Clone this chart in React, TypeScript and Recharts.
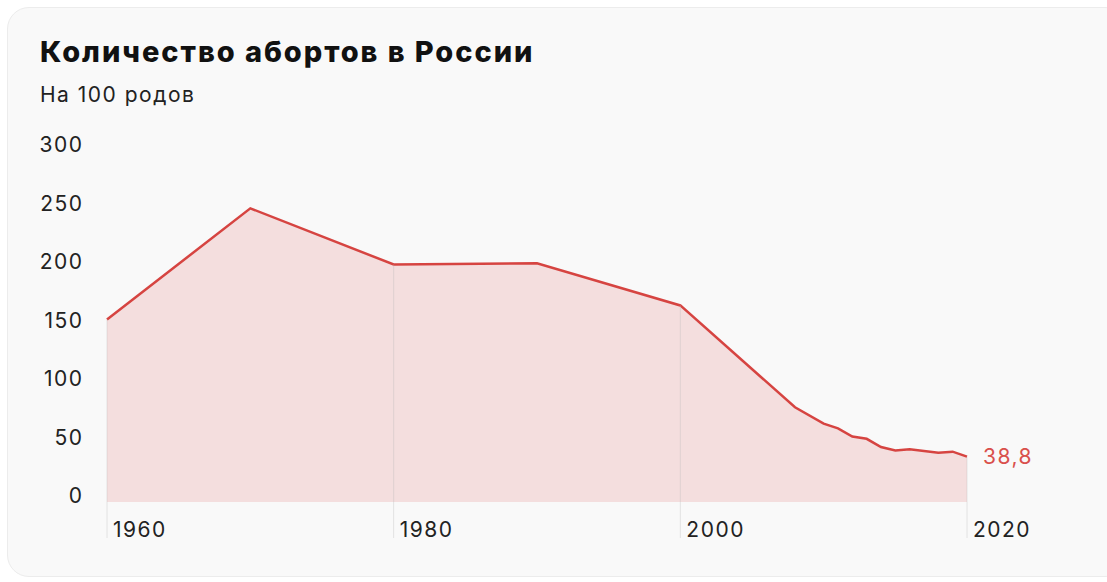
import React from "react"
import { Area, AreaChart, ReferenceLine, XAxis, YAxis } from "recharts"

const years = [1960, 1970, 1980, 1990, 2000, 2008, 2010, 2011, 2012, 2013, 2014, 2015, 2016, 2018, 2019, 2020]
const abortions = [156, 251, 203, 204, 168, 81, 67, 63, 56, 54, 47, 44, 45, 42, 43, 38.8]
const xTicks = [1960, 1980, 2000, 2020]
const yTicks = [0, 50, 100, 150, 200, 250, 300]

const data = years.map((year, i) => ({ year, value: abortions[i] }))

const FONT = "Inter, 'Noto Sans', sans-serif"
const RED = "#d64441"
const SPACING = 1.5

function YTick({ y, payload }: any) {
  return (
    <text x={82 + SPACING} y={y - 6} dy="0.35em" textAnchor="end" fill="#222" fontSize={21} fontFamily={FONT} letterSpacing={SPACING}>
      {payload.value}
    </text>
  )
}

function XTick({ x, y, payload }: any) {
  return (
    <g>
      <line x1={x} x2={x} y1={y} y2={y + 36} stroke="#e2e2e2" strokeWidth={1} />
      <text x={x + 6} y={y + 28} dy="0.35em" textAnchor="start" fill="#222" fontSize={21} fontFamily={FONT} letterSpacing={SPACING}>
        {payload.value}
      </text>
    </g>
  )
}

function LastLabel({ x, y, index }: any) {
  if (index !== data.length - 1) return null
  return (
    <text x={x + 16} y={y} dy="0.35em" fill="#d9504c" fontSize={21} fontFamily={FONT} letterSpacing={SPACING}>
      {String(abortions[abortions.length - 1]).replace(".", ",")}
    </text>
  )
}

export default function App() {
  return (
    <div style={{ position: "absolute", left: 0, top: 0, width: 1107, height: 582, background: "#fff", overflow: "hidden" }}>
      <div
        style={{
          position: "absolute",
          left: 7,
          top: 7,
          width: 1120,
          height: 570,
          borderRadius: 22,
          background: "#f9f9f9",
          border: "1px solid #ececec",
          boxSizing: "border-box",
        }}
      />
      <div
        style={{
          position: "absolute",
          left: 40,
          top: 34,
          fontFamily: FONT,
          fontWeight: 800,
          fontSize: 29,
          lineHeight: "36px",
          color: "#111",
          letterSpacing: 1.95,
          whiteSpace: "nowrap",
        }}
      >
        Количество абортов в России
      </div>
      <div
        style={{
          position: "absolute",
          left: 40,
          top: 82,
          fontFamily: FONT,
          fontSize: 21,
          lineHeight: "26px",
          color: "#222",
          letterSpacing: SPACING,
          whiteSpace: "nowrap",
        }}
      >
        На 100 родов
      </div>
      <div style={{ position: "absolute", left: 0, top: 0 }}>
        <AreaChart width={1107} height={582} data={data} margin={{ top: 151, right: 140, bottom: 40, left: 0 }}>
          <XAxis
            dataKey="year"
            type="number"
            domain={[1960, 2020]}
            ticks={xTicks}
            axisLine={false}
            tickLine={false}
            tickSize={0}
            tickMargin={0}
            height={40}
            tick={<XTick />}
            interval={0}
          />
          <YAxis
            domain={[0, 300]}
            ticks={yTicks}
            axisLine={false}
            tickLine={false}
            width={107}
            tick={<YTick />}
            interval={0}
          />
          <Area
            type="linear"
            dataKey="value"
            stroke={RED}
            strokeWidth={2.5}
            fill={RED}
            fillOpacity={0.15}
            dot={false}
            activeDot={false}
            isAnimationActive={false}
            label={<LastLabel />}
          />
          {xTicks.map((t) => (
            <ReferenceLine
              key={t}
              segment={[
                { x: t, y: 0 },
                { x: t, y: abortions[years.indexOf(t)] },
              ]}
              stroke="#bbb"
              strokeOpacity={0.35}
              strokeWidth={1}
            />
          ))}
        </AreaChart>
      </div>
    </div>
  )
}
